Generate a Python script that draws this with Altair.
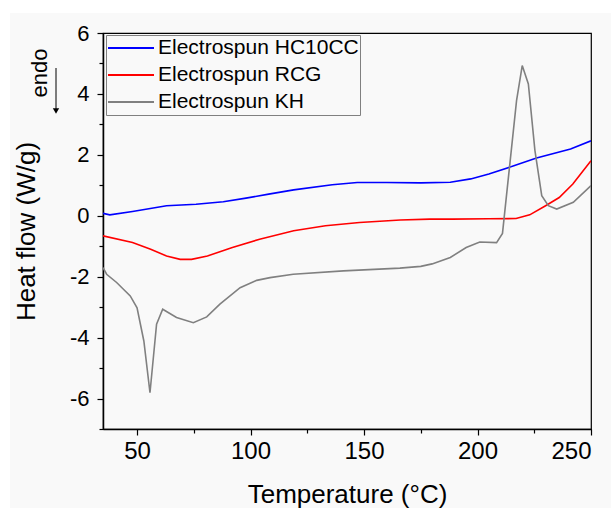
import altair as alt
import pandas as pd

# ---- data ----
names = ["Electrospun HC10CC", "Electrospun RCG", "Electrospun KH"]
colors = ["#0000ff", "#ff0000", "#808080"]

hc_T = [35, 38, 48, 63, 76, 88, 98, 108, 119, 136, 147, 160, 175, 188, 197, 205, 216, 226, 241, 250]
hc_v = [0.08, 0.03, 0.14, 0.33, 0.38, 0.46, 0.58, 0.71, 0.85, 1.02, 1.09, 1.09, 1.08, 1.10, 1.21, 1.37, 1.64, 1.90, 2.19, 2.46]

rcg_T = [35, 48, 56, 63, 69, 74, 81, 92, 104, 119, 133, 148, 166, 179, 189, 205, 217, 223, 230, 236, 242, 250]
rcg_v = [-0.66, -0.88, -1.10, -1.32, -1.43, -1.43, -1.32, -1.04, -0.77, -0.49, -0.33, -0.22, -0.14, -0.11, -0.11, -0.10, -0.09, 0.03, 0.33, 0.60, 1.04, 1.81]

kh_T = [35, 36.6, 41, 47, 50, 53, 55.7, 58.6, 61.3, 67.4, 74.8, 80.7, 86.5, 95.4, 102.7, 108.6, 118.8, 140.9, 165.8,
        175, 180, 188, 195, 201, 208.4, 211, 217.2, 219.7, 222.4, 225.3, 228.3, 231.2, 234.9, 242.2, 250]
kh_v = [-1.70, -1.92, -2.19, -2.63, -3.02, -4.11, -5.81, -3.56, -3.07, -3.34, -3.51, -3.32, -2.90, -2.36, -2.12, -2.03, -1.92, -1.81, -1.72,
        -1.66, -1.58, -1.37, -1.04, -0.86, -0.88, -0.58, 3.78, 4.93, 4.33, 2.14, 0.66, 0.33, 0.22, 0.44, 0.99]

x_ticks = [50, 75, 100, 125, 150, 175, 200, 225, 250]
y_ticks = [-7, -6, -5, -4, -3, -2, -1, 0, 1, 2, 3, 4, 5, 6]

rows = []
for name, T, V in [(names[0], hc_T, hc_v), (names[1], rcg_T, rcg_v), (names[2], kh_T, kh_v)]:
    for i, (t, v) in enumerate(zip(T, V)):
        rows.append({"series": name, "T": t, "v": v, "order": i})
df = pd.DataFrame(rows)

FONT = "Liberation Sans"

lines = alt.Chart(df).mark_line(strokeWidth=1.6, clip=True).encode(
    x=alt.X("T:Q",
            scale=alt.Scale(domain=[35, 250], nice=False, zero=False),
            axis=alt.Axis(values=x_ticks, title="Temperature (°C)",
                          labelExpr="datum.value % 50 == 0 ? '' + datum.value : ''",
                          tickSize={"condition": {"test": "datum.value % 50 == 0", "value": 6}, "value": 4},
                          labelFontSize=24, labelPadding=4, titleFontSize=26, titlePadding=18)),
    y=alt.Y("v:Q",
            scale=alt.Scale(domain=[-7, 6], nice=False, zero=False),
            axis=alt.Axis(values=y_ticks, title="Heat flow (W/g)",
                          labelExpr="datum.value % 2 == 0 ? '' + datum.value : ''",
                          tickSize={"condition": {"test": "datum.value % 2 == 0", "value": 6}, "value": 4},
                          labelFontSize=22, labelPadding=8, titleFontSize=26, titlePadding=30)),
    color=alt.Color("series:N",
                    scale=alt.Scale(domain=names, range=colors),
                    legend=alt.Legend(title=None, orient="none", legendX=3, legendY=2,
                                      symbolType="stroke", symbolSize=2116, symbolStrokeWidth=1.8,
                                      labelFontSize=21, labelFont=FONT, labelColor="black", labelLimit=0,
                                      labelOffset=3, rowPadding=3, padding=1, clipHeight=24,
                                      strokeColor="#808080", fillColor="#f9f9f9")),
    order="order:Q",
)

# white strips around the light grey figure background
strip_data = alt.Data(values=[{"k": 1}])
top_strip = alt.Chart(strip_data).mark_rect(color="white", clip=False).encode(
    x=alt.value(-103), x2=alt.value(508), y=alt.value(-33), y2=alt.value(-20))
left_strip = alt.Chart(strip_data).mark_rect(color="white", clip=False).encode(
    x=alt.value(-103), x2=alt.value(-93), y=alt.value(-33), y2=alt.value(475))

endo = alt.Chart(strip_data).mark_text(text="endo", angle=270, font=FONT, fontSize=22,
                                       color="black", clip=False).encode(
    x=alt.value(-63), y=alt.value(40))
arrow = alt.Chart(strip_data).mark_rule(color="black", strokeWidth=1, clip=False).encode(
    x=alt.value(-47), y=alt.value(35), y2=alt.value(76))
arrow_head = alt.Chart(strip_data).mark_point(shape="triangle-down", filled=True, color="black",
                                              size=40, opacity=1, clip=False).encode(
    x=alt.value(-47), y=alt.value(78))

chart = alt.layer(top_strip, left_strip, lines, endo, arrow, arrow_head).properties(
    width=488, height=396,
    autosize=alt.AutoSizeParams(type="none"),
    padding={"left": 103, "top": 33, "right": 20, "bottom": 79},
    background="#f9f9f9",
).configure_view(
    stroke="black", strokeWidth=1.2, fill="#f9f9f9"
).configure_axis(
    grid=False, domainColor="black", domainWidth=1.5, tickColor="black", tickWidth=1.2,
    labelColor="black", titleColor="black", labelFont=FONT, titleFont=FONT,
    titleFontWeight="normal", zindex=1,
)

chart.save("out.html", embed_options={"renderer": "svg", "actions": False})
